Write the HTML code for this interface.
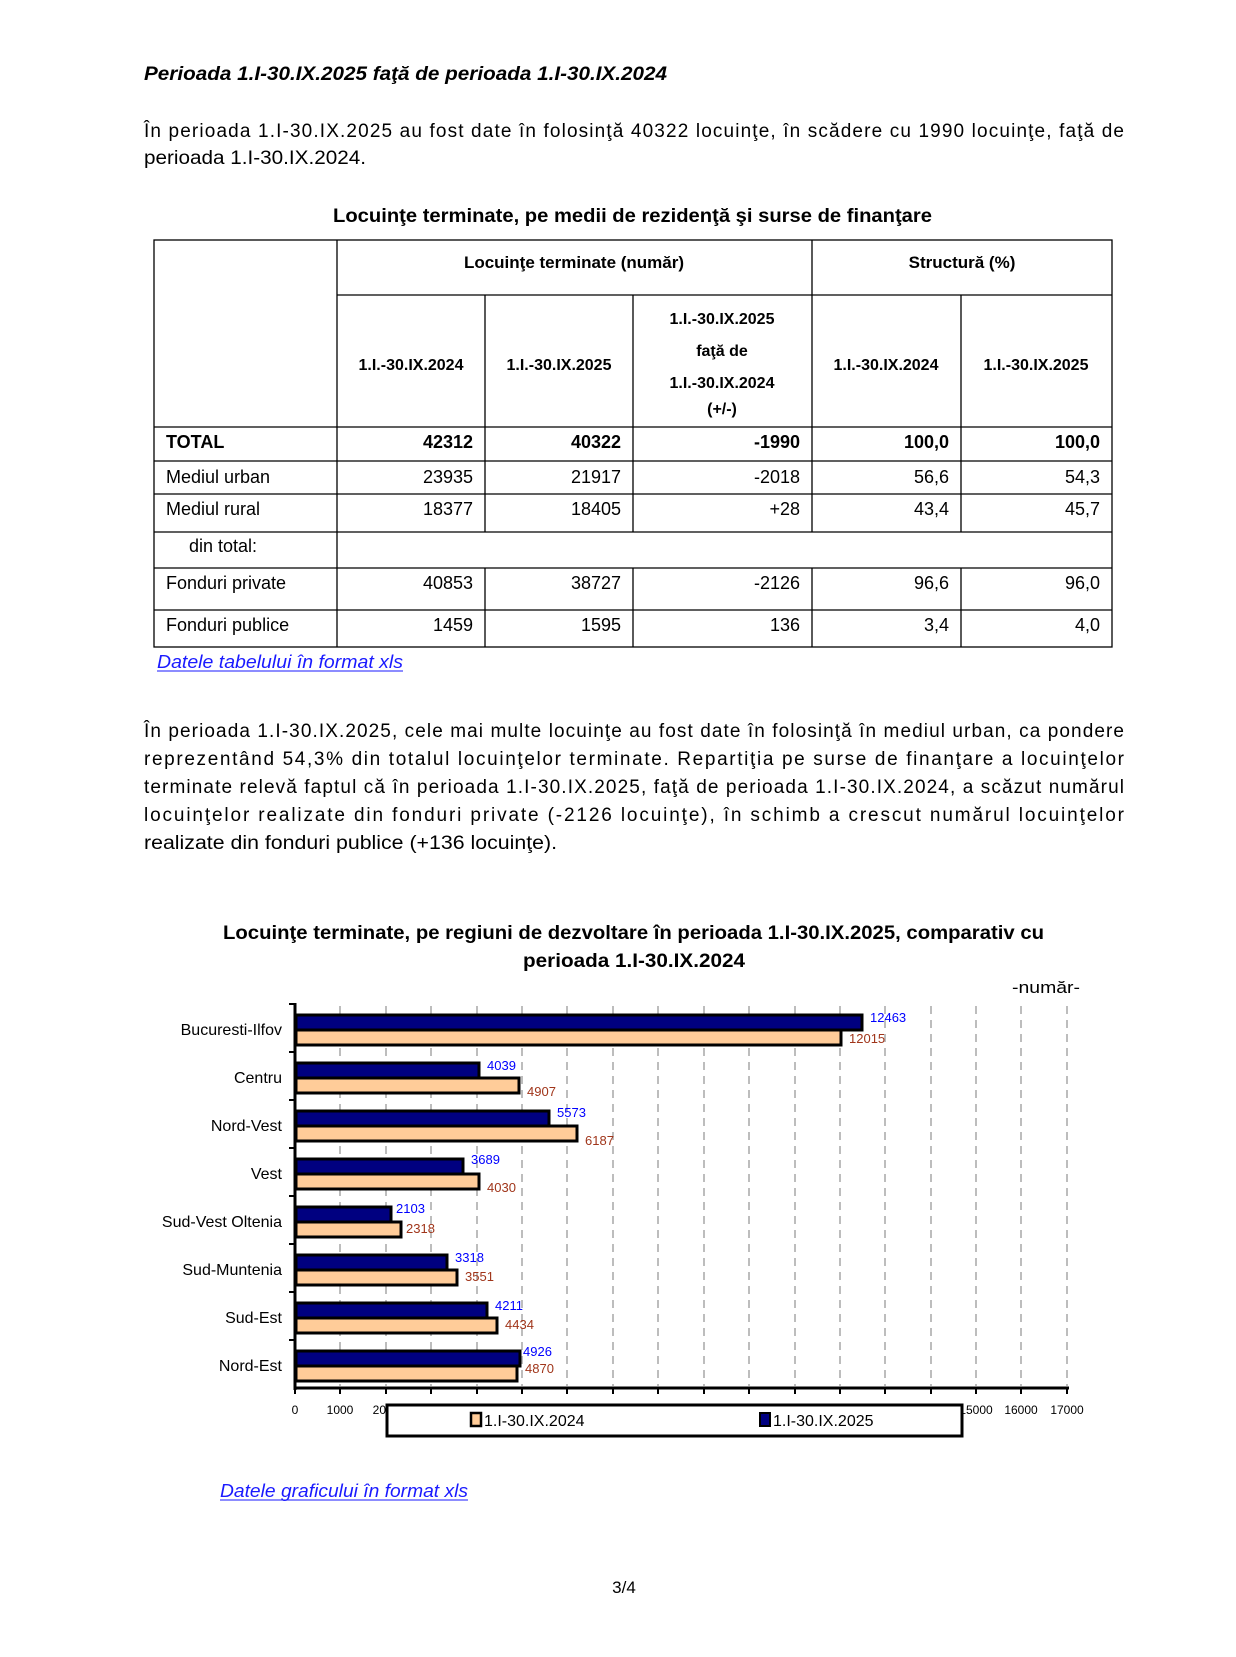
<!DOCTYPE html>
<html><head><meta charset="utf-8"><style>
html,body{margin:0;padding:0;background:#fff;}
svg{display:block;}
text{font-family:"Liberation Sans",sans-serif;}
</style></head><body>
<svg width="1236" height="1657" viewBox="0 0 1236 1657" xmlns="http://www.w3.org/2000/svg">
<text x="144" y="80" font-size="19" font-weight="bold" font-style="italic" textLength="523" lengthAdjust="spacingAndGlyphs">Perioada 1.I-30.IX.2025 faţă de perioada 1.I-30.IX.2024</text>
<text x="144" y="137" font-size="19" textLength="980" lengthAdjust="spacing">În perioada 1.I-30.IX.2025 au fost date în folosinţă 40322 locuinţe, în scădere cu 1990 locuinţe, faţă de</text>
<text x="144" y="164" font-size="19" textLength="222" lengthAdjust="spacingAndGlyphs">perioada 1.I-30.IX.2024.</text>
<text x="333" y="222" font-size="19" font-weight="bold" textLength="599" lengthAdjust="spacingAndGlyphs">Locuinţe terminate, pe medii de rezidenţă şi surse de finanţare</text>

<g stroke="#000" stroke-width="1.3" fill="none">
<rect x="154" y="240" width="958" height="407"/>
<line x1="337" y1="240" x2="337" y2="647"/>
<line x1="812" y1="240" x2="812" y2="532"/>
<line x1="812" y1="568" x2="812" y2="647"/>
<line x1="337" y1="295" x2="1112" y2="295"/>
<line x1="485" y1="295" x2="485" y2="532"/>
<line x1="633" y1="295" x2="633" y2="532"/>
<line x1="961" y1="295" x2="961" y2="532"/>
<line x1="485" y1="568" x2="485" y2="647"/>
<line x1="633" y1="568" x2="633" y2="647"/>
<line x1="961" y1="568" x2="961" y2="647"/>
<line x1="154" y1="427" x2="1112" y2="427"/>
<line x1="154" y1="461" x2="1112" y2="461"/>
<line x1="154" y1="494" x2="1112" y2="494"/>
<line x1="154" y1="532" x2="1112" y2="532"/>
<line x1="154" y1="568" x2="1112" y2="568"/>
<line x1="154" y1="610" x2="1112" y2="610"/>
</g>
<g font-size="17" font-weight="bold" text-anchor="middle">
<text x="574" y="268">Locuinţe terminate (număr)</text>
<text x="962" y="268">Structură (%)</text>
<text x="411" y="370" font-size="16">1.I.-30.IX.2024</text>
<text x="559" y="370" font-size="16">1.I.-30.IX.2025</text>
<text x="722" y="324" font-size="16">1.I.-30.IX.2025</text>
<text x="722" y="356" font-size="16">faţă de</text>
<text x="722" y="388" font-size="16">1.I.-30.IX.2024</text>
<text x="722" y="414" font-size="16">(+/-)</text>
<text x="886" y="370" font-size="16">1.I.-30.IX.2024</text>
<text x="1036" y="370" font-size="16">1.I.-30.IX.2025</text>
</g>
<g font-size="18">
<text x="166" y="448" font-weight="bold">TOTAL</text>
<text x="166" y="483">Mediul urban</text>
<text x="166" y="515">Mediul rural</text>
<text x="189" y="552">din total:</text>
<text x="166" y="589">Fonduri private</text>
<text x="166" y="631">Fonduri publice</text>
</g>
<g font-size="18" text-anchor="end">
<g font-weight="bold">
<text x="473" y="448">42312</text><text x="621" y="448">40322</text><text x="800" y="448">-1990</text><text x="949" y="448">100,0</text><text x="1100" y="448">100,0</text>
</g>
<text x="473" y="483">23935</text><text x="621" y="483">21917</text><text x="800" y="483">-2018</text><text x="949" y="483">56,6</text><text x="1100" y="483">54,3</text>
<text x="473" y="515">18377</text><text x="621" y="515">18405</text><text x="800" y="515">+28</text><text x="949" y="515">43,4</text><text x="1100" y="515">45,7</text>
<text x="473" y="589">40853</text><text x="621" y="589">38727</text><text x="800" y="589">-2126</text><text x="949" y="589">96,6</text><text x="1100" y="589">96,0</text>
<text x="473" y="631">1459</text><text x="621" y="631">1595</text><text x="800" y="631">136</text><text x="949" y="631">3,4</text><text x="1100" y="631">4,0</text>
</g>
<text x="157" y="668" font-size="18" font-style="italic" fill="#1a1aff" textLength="246" lengthAdjust="spacingAndGlyphs">Datele tabelului în format xls</text>
<line x1="157" y1="671" x2="403" y2="671" stroke="#1a1aff" stroke-width="1"/>

<g font-size="19">
<text x="144" y="737" textLength="980" lengthAdjust="spacing">În perioada 1.I-30.IX.2025, cele mai multe locuinţe au fost date în folosinţă în mediul urban, ca pondere</text>
<text x="144" y="765" textLength="980" lengthAdjust="spacing">reprezentând 54,3% din totalul locuinţelor terminate. Repartiţia pe surse de finanţare a locuinţelor</text>
<text x="144" y="793" textLength="980" lengthAdjust="spacing">terminate relevă faptul că în perioada 1.I-30.IX.2025, faţă de perioada 1.I-30.IX.2024, a scăzut numărul</text>
<text x="144" y="821" textLength="980" lengthAdjust="spacing">locuinţelor realizate din fonduri private (-2126 locuinţe), în schimb a crescut numărul locuinţelor</text>
<text x="144" y="849" textLength="413" lengthAdjust="spacingAndGlyphs">realizate din fonduri publice (+136 locuinţe).</text>
</g>

<text x="223" y="939" font-size="19" font-weight="bold" textLength="821" lengthAdjust="spacingAndGlyphs">Locuinţe terminate, pe regiuni de dezvoltare în perioada 1.I-30.IX.2025, comparativ cu</text>
<text x="523" y="967" font-size="19" font-weight="bold" textLength="222" lengthAdjust="spacingAndGlyphs">perioada 1.I-30.IX.2024</text>
<text x="1012" y="993" font-size="17" textLength="68" lengthAdjust="spacingAndGlyphs">-număr-</text>

<g stroke="#bdbdbd" stroke-width="2" stroke-dasharray="8,6">
<line x1="340" y1="1006" x2="340" y2="1386"/><line x1="386" y1="1006" x2="386" y2="1386"/><line x1="431" y1="1006" x2="431" y2="1386"/><line x1="477" y1="1006" x2="477" y2="1386"/><line x1="522" y1="1006" x2="522" y2="1386"/><line x1="567" y1="1006" x2="567" y2="1386"/><line x1="613" y1="1006" x2="613" y2="1386"/><line x1="658" y1="1006" x2="658" y2="1386"/><line x1="704" y1="1006" x2="704" y2="1386"/><line x1="749" y1="1006" x2="749" y2="1386"/><line x1="795" y1="1006" x2="795" y2="1386"/><line x1="840" y1="1006" x2="840" y2="1386"/><line x1="885" y1="1006" x2="885" y2="1386"/><line x1="931" y1="1006" x2="931" y2="1386"/><line x1="976" y1="1006" x2="976" y2="1386"/><line x1="1021" y1="1006" x2="1021" y2="1386"/><line x1="1067" y1="1006" x2="1067" y2="1386"/>
</g>

<g stroke="#000" stroke-width="3">
<rect x="296" y="1015" width="566" height="15" fill="#000080"/><rect x="296" y="1030" width="545" height="15" fill="#ffcc99"/>
<rect x="296" y="1063" width="183" height="15" fill="#000080"/><rect x="296" y="1078" width="223" height="15" fill="#ffcc99"/>
<rect x="296" y="1111" width="253" height="15" fill="#000080"/><rect x="296" y="1126" width="281" height="15" fill="#ffcc99"/>
<rect x="296" y="1159" width="167" height="15" fill="#000080"/><rect x="296" y="1174" width="183" height="15" fill="#ffcc99"/>
<rect x="296" y="1207" width="95" height="15" fill="#000080"/><rect x="296" y="1222" width="105" height="15" fill="#ffcc99"/>
<rect x="296" y="1255" width="151" height="15" fill="#000080"/><rect x="296" y="1270" width="161" height="15" fill="#ffcc99"/>
<rect x="296" y="1303" width="191" height="15" fill="#000080"/><rect x="296" y="1318" width="201" height="15" fill="#ffcc99"/>
<rect x="296" y="1351" width="224" height="15" fill="#000080"/><rect x="296" y="1366" width="221" height="15" fill="#ffcc99"/>
</g>

<g font-size="13">
<g fill="#0000ff">
<text x="870" y="1022">12463</text><text x="487" y="1070">4039</text><text x="557" y="1117">5573</text><text x="471" y="1164">3689</text><text x="396" y="1213">2103</text><text x="455" y="1262">3318</text><text x="495" y="1310">4211</text><text x="523" y="1356">4926</text>
</g>
<g fill="#a0351a">
<text x="849" y="1043">12015</text><text x="527" y="1096">4907</text><text x="585" y="1145">6187</text><text x="487" y="1192">4030</text><text x="406" y="1233">2318</text><text x="465" y="1281">3551</text><text x="505" y="1329">4434</text><text x="525" y="1373">4870</text>
</g>
</g>

<g font-size="16" text-anchor="end">
<text x="282" y="1035">Bucuresti-Ilfov</text><text x="282" y="1083">Centru</text><text x="282" y="1131">Nord-Vest</text><text x="282" y="1179">Vest</text><text x="282" y="1227">Sud-Vest Oltenia</text><text x="282" y="1275">Sud-Muntenia</text><text x="282" y="1323">Sud-Est</text><text x="282" y="1371">Nord-Est</text>
</g>

<g stroke="#000" stroke-width="3">
<line x1="295" y1="1003" x2="295" y2="1390"/>
<line x1="294" y1="1388" x2="1069" y2="1388"/>
</g>
<g stroke="#000" stroke-width="2">
<line x1="289" y1="1004" x2="295" y2="1004"/><line x1="289" y1="1052" x2="295" y2="1052"/><line x1="289" y1="1100" x2="295" y2="1100"/><line x1="289" y1="1148" x2="295" y2="1148"/><line x1="289" y1="1196" x2="295" y2="1196"/><line x1="289" y1="1244" x2="295" y2="1244"/><line x1="289" y1="1292" x2="295" y2="1292"/><line x1="289" y1="1340" x2="295" y2="1340"/>
<line x1="295" y1="1388" x2="295" y2="1394"/><line x1="340" y1="1388" x2="340" y2="1394"/><line x1="386" y1="1388" x2="386" y2="1394"/><line x1="431" y1="1388" x2="431" y2="1394"/><line x1="477" y1="1388" x2="477" y2="1394"/><line x1="522" y1="1388" x2="522" y2="1394"/><line x1="567" y1="1388" x2="567" y2="1394"/><line x1="613" y1="1388" x2="613" y2="1394"/><line x1="658" y1="1388" x2="658" y2="1394"/><line x1="704" y1="1388" x2="704" y2="1394"/><line x1="749" y1="1388" x2="749" y2="1394"/><line x1="795" y1="1388" x2="795" y2="1394"/><line x1="840" y1="1388" x2="840" y2="1394"/><line x1="885" y1="1388" x2="885" y2="1394"/><line x1="931" y1="1388" x2="931" y2="1394"/><line x1="976" y1="1388" x2="976" y2="1394"/><line x1="1021" y1="1388" x2="1021" y2="1394"/><line x1="1067" y1="1388" x2="1067" y2="1394"/>
</g>
<g font-size="12" text-anchor="middle">
<text x="295" y="1414">0</text><text x="340" y="1414">1000</text><text x="386" y="1414">2000</text><text x="431" y="1414">3000</text><text x="477" y="1414">4000</text><text x="522" y="1414">5000</text><text x="567" y="1414">6000</text><text x="613" y="1414">7000</text><text x="658" y="1414">8000</text><text x="704" y="1414">9000</text><text x="749" y="1414">10000</text><text x="795" y="1414">11000</text><text x="840" y="1414">12000</text><text x="885" y="1414">13000</text><text x="931" y="1414">14000</text><text x="976" y="1414">15000</text><text x="1021" y="1414">16000</text><text x="1067" y="1414">17000</text>
</g>

<rect x="387" y="1405" width="575" height="31" fill="#fff" stroke="#000" stroke-width="3"/>
<rect x="471" y="1413" width="10" height="13" fill="#ffcc99" stroke="#000" stroke-width="2.5"/>
<text x="484" y="1426" font-size="16">1.I-30.IX.2024</text>
<rect x="760" y="1413" width="10" height="13" fill="#000080" stroke="#000" stroke-width="2"/>
<text x="773" y="1426" font-size="16">1.I-30.IX.2025</text>

<text x="220" y="1497" font-size="18" font-style="italic" fill="#1a1aff" textLength="248" lengthAdjust="spacingAndGlyphs">Datele graficului în format xls</text>
<line x1="220" y1="1500" x2="468" y2="1500" stroke="#1a1aff" stroke-width="1"/>

<text x="624" y="1593" font-size="17" text-anchor="middle">3/4</text>
</svg>
</body></html>
